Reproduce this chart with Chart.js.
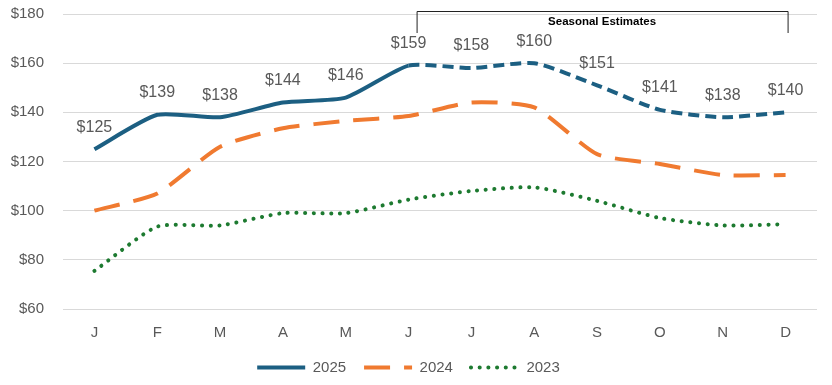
<!DOCTYPE html>
<html>
<head>
<meta charset="utf-8">
<script src="https://cdn.jsdelivr.net/npm/chart.js@4.4.1/dist/chart.umd.min.js"></script>
<style>
  html, body { margin: 0; padding: 0; background: #fff; }
  #wrap { width: 832px; height: 385px; }
</style>
</head>
<body>
<div id="wrap"><canvas id="chart"></canvas></div>
<script>
const months = ["J", "F", "M", "A", "M", "J", "J", "A", "S", "O", "N", "D"];
const y2025 = [125, 139, 138, 144, 146, 159, 158, 160, 151, 141, 138, 140];
const y2024 = [100, 107, 126, 133.5, 136.5, 138.5, 144, 142, 123, 119, 114.5, 114.5];
const y2023 = [75.5, 93.5, 94, 99, 99, 104.5, 108, 109.5, 104, 97, 94, 94.5];
const yTicks = [60, 80, 100, 120, 140, 160, 180];

const estimateStart = 5; // June, first month of seasonal estimates
const grey = "#595959";
const fontFam = "'Liberation Sans', Arial, sans-serif";

// value labels above the 2025 line
const valueLabels = {
  id: "valueLabels",
  afterDatasetsDraw(chart) {
    const ctx = chart.ctx;
    const meta = chart.getDatasetMeta(0);
    ctx.save();
    ctx.font = "16px " + fontFam;
    ctx.fillStyle = grey;
    ctx.textAlign = "center";
    ctx.textBaseline = "middle";
    meta.data.forEach((pt, i) => {
      ctx.fillText("$" + y2025[i], pt.x, pt.y - 22);
    });
    ctx.restore();
  }
};

// bracket over the estimate months
const bracket = {
  id: "bracket",
  afterDraw(chart) {
    const ctx = chart.ctx;
    const x = chart.scales.x;
    const x1 = x.getPixelForValue(estimateStart) + 8;
    const x2 = x.getPixelForValue(months.length - 1) + 2;
    const top = chart.chartArea.top - 3;
    ctx.save();
    ctx.strokeStyle = "#222";
    ctx.lineWidth = 1;
    ctx.beginPath();
    ctx.moveTo(x1 + 0.5, top + 22);
    ctx.lineTo(x1 + 0.5, top + 0.5);
    ctx.lineTo(x2 + 0.5, top + 0.5);
    ctx.lineTo(x2 + 0.5, top + 22);
    ctx.stroke();
    ctx.font = "bold 11.5px " + fontFam;
    ctx.fillStyle = "#000";
    ctx.textAlign = "center";
    ctx.textBaseline = "middle";
    ctx.fillText("Seasonal Estimates", (x1 + x2) / 2, top + 11);
    ctx.restore();
  }
};

const ctx = document.getElementById("chart").getContext("2d");
const chart = new Chart(ctx, {
  type: "line",
  data: {
    labels: months,
    datasets: [
      {
        label: "2025",
        data: y2025,
        borderColor: "#1c5f82",
        backgroundColor: "#1c5f82",
        borderWidth: 4,
        pointRadius: 0,
        tension: 0.2,
        segment: {
          borderDash: c => c.p0DataIndex >= estimateStart ? [11, 6] : undefined
        }
      },
      {
        label: "2024",
        data: y2024,
        borderColor: "#f07a30",
        backgroundColor: "#f07a30",
        borderWidth: 4,
        borderDash: [26, 14],
        pointRadius: 0,
        tension: 0.2
      },
      {
        label: "2023",
        data: y2023,
        borderColor: "#1d7a30",
        backgroundColor: "#1d7a30",
        borderWidth: 4,
        borderDash: [0.1, 8.6],
        borderCapStyle: "round",
        pointRadius: 0,
        tension: 0.2
      }
    ]
  },
  options: {
    responsive: true,
    maintainAspectRatio: false,
    animation: false,
    layout: { padding: { top: 0, right: 15, left: 0, bottom: 0 } },
    plugins: {
      tooltip: { enabled: false },
      legend: {
        position: "bottom",
        labels: {
          usePointStyle: true,
          pointStyle: "line",
          pointStyleWidth: 48,
          padding: 18,
          color: grey,
          font: { size: 15, family: fontFam },
          generateLabels: c => {
            const items = Chart.defaults.plugins.legend.labels.generateLabels(c);
            items.forEach(it => {
              const ds = c.data.datasets[it.datasetIndex];
              it.lineDash = it.datasetIndex === 0 ? [] : ds.borderDash;
              it.lineCap = ds.borderCapStyle || "butt";
              it.lineWidth = ds.borderWidth;
              it.strokeStyle = ds.borderColor;
            });
            return items;
          }
        }
      }
    },
    scales: {
      x: {
        offset: true,
        grid: { display: false },
        border: { display: false },
        afterFit: s => { s.height = 33; },
        ticks: { color: grey, padding: 7, font: { size: 15, family: fontFam } }
      },
      y: {
        min: 60,
        max: 180,
        afterBuildTicks: s => { s.ticks = yTicks.map(v => ({ value: v })); },
        afterFit: s => { s.width = 63; s.paddingTop = 14; s.paddingBottom = 0; },
        grid: { color: "#d9d9d9", drawTicks: false },
        border: { display: false },
        ticks: {
          color: grey,
          padding: 19,
          font: { size: 15, family: fontFam },
          callback: v => "$" + v
        }
      }
    }
  },
  plugins: [valueLabels, bracket]
});
</script>
</body>
</html>
